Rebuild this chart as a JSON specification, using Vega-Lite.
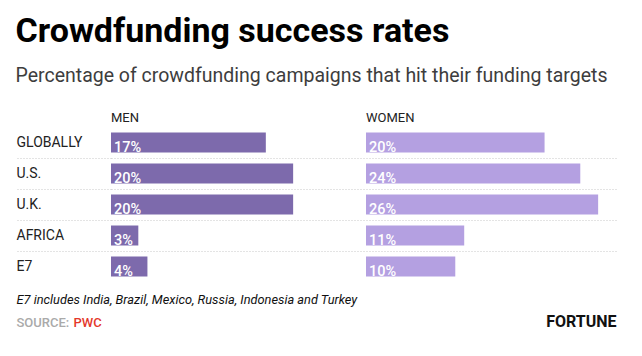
{
  "$schema": "https://vega.github.io/schema/vega-lite/v6.json",
  "padding": {"left": 15, "top": 15, "right": 27, "bottom": 10},
  "background": "white",
  "config": {"view": {"stroke": null}, "font": "Roboto"},
  "title": {
    "text": "Crowdfunding success rates",
    "subtitle": "Percentage of crowdfunding campaigns that hit their funding targets",
    "anchor": "start",
    "frame": "bounds",
    "font": "Roboto",
    "fontSize": 34,
    "fontWeight": 700,
    "color": "#000000",
    "subtitleFont": "Roboto",
    "subtitleFontSize": 19.5,
    "subtitleColor": "#3d3d3d",
    "subtitlePadding": 18,
    "offset": 26
  },
  "datasets": {
    "rates": [
      {"region": "GLOBALLY", "gender": "Men", "value": 17},
      {"region": "U.S.", "gender": "Men", "value": 20},
      {"region": "U.K.", "gender": "Men", "value": 20},
      {"region": "AFRICA", "gender": "Men", "value": 3},
      {"region": "E7", "gender": "Men", "value": 4},
      {"region": "GLOBALLY", "gender": "Women", "value": 20},
      {"region": "U.S.", "gender": "Women", "value": 24},
      {"region": "U.K.", "gender": "Women", "value": 26},
      {"region": "AFRICA", "gender": "Women", "value": 11},
      {"region": "E7", "gender": "Women", "value": 10}
    ]
  },
  "spacing": 0,
  "bounds": "flush",
  "hconcat": [
    {
      "width": 255,
      "height": 155,
      "title": {"text": "MEN", "anchor": "start", "frame": "group", "font": "Roboto", "fontSize": 13, "fontWeight": 400, "color": "#222222", "baseline": "alphabetic", "offset": -8},
      "data": {"name": "rates"},
      "transform": [
        {"filter": "datum.gender === 'Men'"},
        {"calculate": "datum.value + '%'", "as": "label"}
      ],
      "encoding": {
        "y": {
          "field": "region",
          "type": "nominal",
          "sort": ["GLOBALLY", "U.S.", "U.K.", "AFRICA", "E7"],
          "scale": {"paddingInner": 0, "paddingOuter": 0},
          "axis": {
            "title": "SOURCE:",
            "titleAngle": 0,
            "titleX": -95,
            "titleY": 199.5,
            "titleAlign": "left",
            "titleBaseline": "alphabetic",
            "titleFont": "Roboto",
            "titleFontSize": 13,
            "titleFontWeight": 500,
            "titleColor": "#aaaaaa",
            "bandPosition": 0,
            "tickExtra": false,
            "labelOffset": 4.5,
            "labelBaseline": "alphabetic",
            "labelAlign": "left",
            "labelPadding": 0,
            "labelFont": "Roboto",
            "labelFontSize": 14,
            "labelColor": "#222222",
            "domain": false,
            "ticks": true,
            "tickSize": 95,
            "tickWidth": 1,
            "tickColor": {"condition": {"test": "datum.value === 'GLOBALLY'", "value": "transparent"}, "value": "#c8c8c8"},
            "tickDash": [1, 2],
            "grid": true,
            "gridColor": "#c8c8c8",
            "gridDash": [1, 2],
            "gridOpacity": {"condition": {"test": "datum.value === 'GLOBALLY'", "value": 0}, "value": 1}
          }
        }
      },
      "layer": [
        {
          "mark": {"type": "bar", "height": 20, "color": "#7d6aac"},
          "encoding": {
            "x": {
              "field": "value",
              "type": "quantitative",
              "scale": {"domain": [0, 27]},
              "axis": {
                "labels": false,
                "ticks": false,
                "domain": false,
                "grid": false,
                "title": "E7 includes India, Brazil, Mexico, Russia, Indonesia and Turkey",
                "titleX": -95,
                "titleY": 21.5,
                "titleAlign": "left",
                "titleBaseline": "alphabetic",
                "titleFont": "Roboto",
                "titleFontStyle": "italic",
                "titleFontWeight": 400,
                "titleFontSize": 12.8,
                "titleColor": "#111111"
              }
            }
          }
        },
        {
          "mark": {"type": "text", "align": "left", "baseline": "alphabetic", "dx": 3, "dy": 9, "color": "#ffffff", "font": "Roboto", "fontSize": 14.5, "fontWeight": 500},
          "encoding": {
            "x": {"datum": 0, "type": "quantitative"},
            "text": {"field": "label"}
          }
        }
      ]
    },
    {
      "width": 250,
      "height": 155,
      "title": {"text": "WOMEN", "anchor": "start", "frame": "group", "font": "Roboto", "fontSize": 13, "fontWeight": 400, "color": "#222222", "baseline": "alphabetic", "offset": -8},
      "data": {"name": "rates"},
      "transform": [
        {"filter": "datum.gender === 'Women'"},
        {"calculate": "datum.value + '%'", "as": "label"}
      ],
      "encoding": {
        "y": {
          "field": "region",
          "type": "nominal",
          "sort": ["GLOBALLY", "U.S.", "U.K.", "AFRICA", "E7"],
          "scale": {"paddingInner": 0, "paddingOuter": 0},
          "axis": {
            "title": "FORTUNE",
            "titleAngle": 0,
            "titleX": 250,
            "titleY": 199.5,
            "titleAlign": "right",
            "titleBaseline": "alphabetic",
            "titleFont": "Roboto",
            "titleFontSize": 16,
            "titleFontWeight": 700,
            "titleColor": "#111111",
            "bandPosition": 0,
            "tickExtra": false,
            "labels": false,
            "ticks": false,
            "domain": false,
            "grid": true,
            "gridColor": "#c8c8c8",
            "gridDash": [1, 2],
            "gridOpacity": {"condition": {"test": "datum.value === 'GLOBALLY'", "value": 0}, "value": 1}
          }
        }
      },
      "layer": [
        {
          "mark": {"type": "bar", "height": 20, "color": "#b4a0e1"},
          "encoding": {
            "x": {
              "field": "value",
              "type": "quantitative",
              "scale": {"domain": [0, 26.45]},
              "axis": {
                "labels": false,
                "ticks": false,
                "domain": false,
                "grid": false,
                "title": "PWC",
                "titleX": -293,
                "titleY": 44.5,
                "titleAlign": "left",
                "titleBaseline": "alphabetic",
                "titleFont": "Roboto",
                "titleFontWeight": 500,
                "titleFontSize": 13,
                "titleColor": "#e4382b"
              }
            }
          }
        },
        {
          "mark": {"type": "text", "align": "left", "baseline": "alphabetic", "dx": 3, "dy": 9, "color": "#ffffff", "font": "Roboto", "fontSize": 14.5, "fontWeight": 500},
          "encoding": {
            "x": {"datum": 0, "type": "quantitative"},
            "text": {"field": "label"}
          }
        }
      ]
    }
  ]
}
